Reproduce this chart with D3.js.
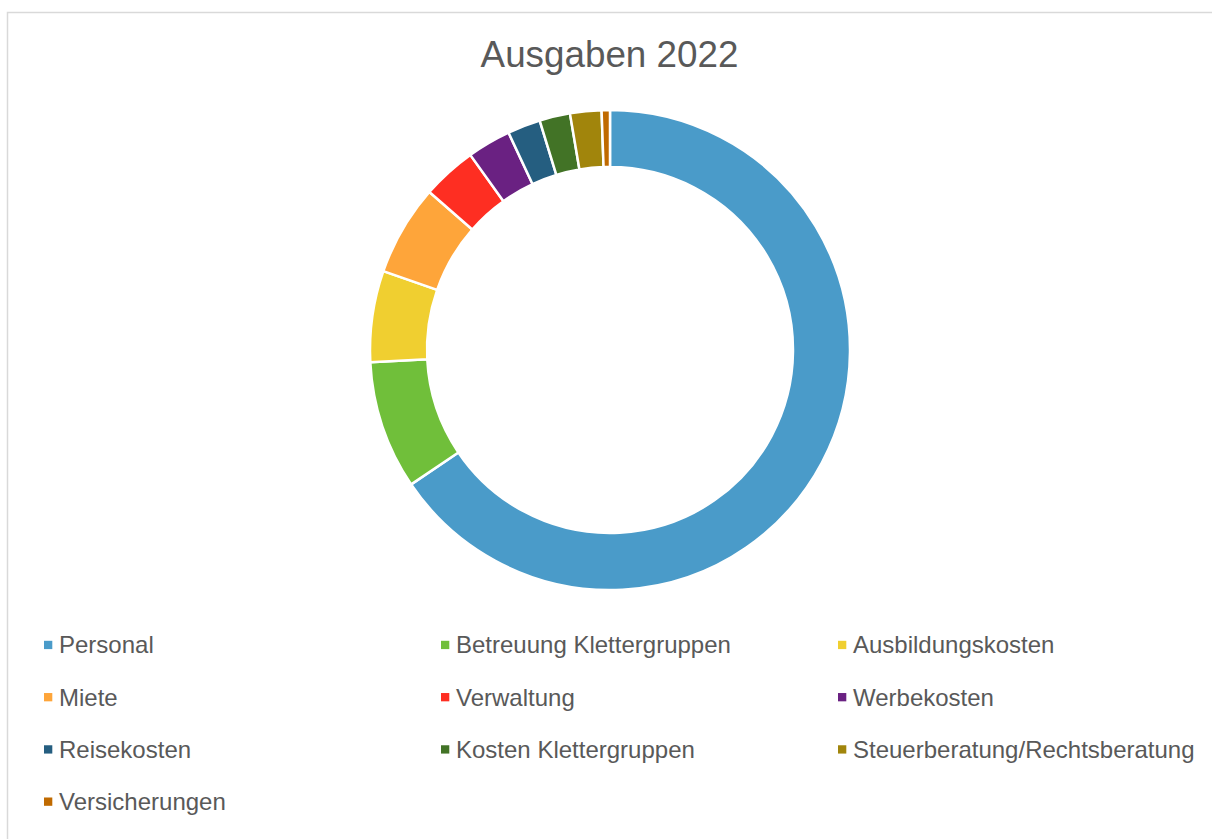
<!DOCTYPE html>
<html>
<head>
<meta charset="utf-8">
<script src="https://cdn.jsdelivr.net/npm/d3@7"></script>
<style>
  body { margin: 0; background: #fff; }
  svg { display: block; font-family: "Liberation Sans", Arial, sans-serif; }
</style>
</head>
<body>
<div id="chart"></div>
<script>
const categories = [
  "Personal", "Betreuung Klettergruppen", "Ausbildungskosten",
  "Miete", "Verwaltung", "Werbekosten",
  "Reisekosten", "Kosten Klettergruppen", "Steuerberatung/Rechtsberatung",
  "Versicherungen"
];
// share of total spend in percent
const values = [65.54, 8.65, 6.14, 6.11, 3.67, 2.94, 2.22, 2.06, 2.11, 0.56];
const colors = [
  "#4a9bc9", "#70bf3a", "#f0cf30", "#fea53a", "#fe2e22",
  "#6a2182", "#255e80", "#427326", "#a1850c", "#c06a00"
];

const width = 1212;
const height = 839;
const cx = 610, cy = 350;
const outerR = 240, innerR = 183;

const svg = d3.select("#chart")
  .append("svg")
  .attr("width", width)
  .attr("height", height);

/* Frame (only top and left edge visible) */
svg.append("path")
  .attr("d", `M7.5,${height} V12.5 H${width}`)
  .attr("fill", "none")
  .attr("stroke", "#d9d9d9")
  .attr("stroke-width", 1.5);

/* Title */
svg.append("text")
  .attr("x", 609.5)
  .attr("y", 66.5)
  .attr("text-anchor", "middle")
  .attr("font-size", 36.8)
  .attr("fill", "#595959")
  .text("Ausgaben 2022");

/* Donut - Excel style: clockwise from top */
const data = categories.map((c, i) => ({ name: c, value: values[i], color: colors[i] }));

const pie = d3.pie()
  .value((d) => d.value)
  .sort(null);

const arc = d3.arc()
  .innerRadius(innerR)
  .outerRadius(outerR);

svg.append("g")
  .attr("transform", `translate(${cx},${cy})`)
  .selectAll("path")
  .data(pie(data))
  .join("path")
  .attr("d", arc)
  .attr("fill", (d) => d.data.color)
  .attr("stroke", "#fff")
  .attr("stroke-width", 2.5)
  .attr("stroke-linejoin", "round");

/* Legend */
const colX = d3.scalePoint().domain([0, 1, 2]).range([44, 838]);
const rowY = d3.scalePoint().domain([0, 1, 2, 3]).range([653.3, 810]);

const items = svg.append("g")
  .selectAll("g")
  .data(data)
  .join("g")
  .attr("transform", (d, i) => `translate(${colX(i % 3)},${rowY(Math.floor(i / 3))})`);

items.append("rect")
  .attr("x", 0)
  .attr("y", -12.5)
  .attr("width", 8.3)
  .attr("height", 8.3)
  .attr("fill", (d) => d.color);

items.append("text")
  .attr("x", 15)
  .attr("y", 0)
  .attr("font-size", 24)
  .attr("fill", "#595959")
  .text((d) => d.name);
</script>
</body>
</html>
